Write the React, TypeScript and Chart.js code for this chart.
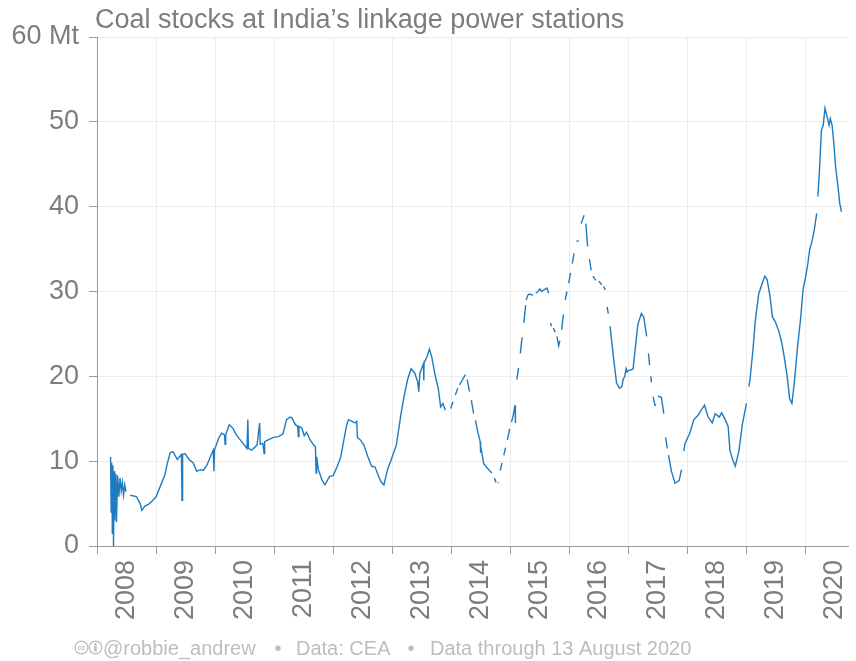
import { useEffect, useRef } from 'react';
import { Chart, registerables } from 'chart.js';

Chart.register(...registerables);

const TITLE = 'Coal stocks at India\u2019s linkage power stations';
const FOOTER_HANDLE = '@robbie_andrew';
const FOOTER_SOURCE = 'Data: CEA';
const FOOTER_DATE = 'Data through 13 August 2020';
const UNIT = 'Mt';

const YEARS = [2008, 2009, 2010, 2011, 2012, 2013, 2014, 2015, 2016, 2017, 2018, 2019, 2020];
const Y_TICKS = [0, 10, 20, 30, 40, 50, 60];

// [decimal year, stock in Mt] ; null = missing report
type Pt = [number, number | null];

const S2008: Pt[] = [
  [2008.23, 10.5], [2008.24, 4.0], [2008.25, 9.8], [2008.26, 1.5], [2008.27, 9.5], [2008.28, 0.0],
  [2008.29, 8.8], [2008.30, 3.0], [2008.32, 8.5], [2008.33, 2.8], [2008.35, 8.3], [2008.37, 5.8],
  [2008.39, 8.0], [2008.41, 6.5], [2008.43, 7.5], [2008.45, 6.0], [2008.47, 7.2], [2008.49, 6.4],
  [2008.52, null], [2008.56, 6.0], [2008.62, 5.9], [2008.67, 5.8], [2008.73, 5.0], [2008.76, 4.2],
  [2008.81, 4.7], [2008.87, 4.9], [2008.92, 5.2],
];
const S2009: Pt[] = [
  [2009.00, 5.8], [2009.07, 7.0], [2009.15, 8.4], [2009.19, 9.7], [2009.24, 11.0], [2009.29, 11.1],
  [2009.36, 10.2], [2009.43, 10.8], [2009.44, 5.4], [2009.45, 10.8], [2009.49, 10.9], [2009.56, 10.2],
  [2009.63, 9.8], [2009.69, 8.8], [2009.75, 9.0], [2009.80, 8.9], [2009.86, 9.5], [2009.93, 10.7],
  [2009.97, 11.3], [2009.98, 8.8], [2009.99, 11.3],
];
const S2010: Pt[] = [
  [2010.06, 12.7], [2010.11, 13.3], [2010.16, 13.1], [2010.17, 12.0], [2010.18, 13.1], [2010.24, 14.3],
  [2010.30, 13.9], [2010.36, 13.1], [2010.45, 12.3], [2010.54, 11.5], [2010.555, 14.9], [2010.565, 11.5],
  [2010.62, 11.3], [2010.71, 11.9], [2010.755, 14.5], [2010.765, 12.0], [2010.81, 12.1], [2010.83, 10.9],
  [2010.84, 12.3], [2010.90, 12.5], [2010.99, 12.8],
];
const S2011: Pt[] = [
  [2011.07, 12.9], [2011.15, 13.2], [2011.21, 14.9], [2011.27, 15.2], [2011.30, 15.1], [2011.36, 14.3],
  [2011.40, 14.1], [2011.41, 12.9], [2011.42, 14.1], [2011.47, 13.9], [2011.51, 13.0], [2011.55, 13.4],
  [2011.61, 12.5], [2011.67, 11.9], [2011.70, 11.7], [2011.71, 8.6], [2011.72, 10.5], [2011.75, 9.0],
  [2011.81, 7.8], [2011.86, 7.2], [2011.94, 8.2],
];
const S2012: Pt[] = [
  [2012.00, 8.3], [2012.07, 9.4], [2012.13, 10.5], [2012.17, 12.1], [2012.23, 14.3], [2012.26, 14.9],
  [2012.32, 14.7], [2012.37, 14.5], [2012.40, 14.7], [2012.41, 12.8], [2012.46, 12.5], [2012.52, 11.9],
  [2012.59, 10.5], [2012.65, 9.4], [2012.71, 9.3], [2012.77, 8.2], [2012.81, 7.6], [2012.86, 7.2],
  [2012.92, 9.0], [2012.98, 10.1],
];
const S2013: Pt[] = [
  [2013.07, 11.9], [2013.15, 15.6], [2013.20, 17.6], [2013.26, 19.6], [2013.32, 20.9], [2013.38, 20.4],
  [2013.43, 19.4], [2013.45, 18.2], [2013.47, 20.4], [2013.53, 21.5], [2013.535, 19.5], [2013.54, 21.6],
  [2013.59, 22.3], [2013.63, 23.2], [2013.67, 22.3], [2013.73, 20.0], [2013.78, 18.6], [2013.82, 16.4],
  [2013.86, 16.8], [2013.90, 16.0], [2013.94, null], [2013.99, 16.2],
];
const S2014: Pt[] = [
  [2014.03, 17.0], [2014.05, null], [2014.07, 17.8], [2014.11, 18.6], [2014.125, null], [2014.14, 19.0],
  [2014.19, 19.6], [2014.24, 20.2], [2014.255, null], [2014.27, 19.6], [2014.31, 18.2], [2014.325, null],
  [2014.34, 17.2], [2014.38, 15.6], [2014.395, null], [2014.41, 14.8], [2014.45, 13.4], [2014.47, 12.9],
  [2014.49, 12.3], [2014.495, 11.0], [2014.50, 11.8], [2014.55, 9.7], [2014.61, 9.2], [2014.66, 8.8],
  [2014.69, 8.6], [2014.71, null], [2014.73, 8.0], [2014.76, 7.5], [2014.775, null], [2014.79, 7.4],
  [2014.80, 7.5], [2014.815, null], [2014.83, 8.9], [2014.86, 9.8], [2014.875, null], [2014.89, 10.7],
  [2014.92, 11.6], [2014.935, null], [2014.95, 12.5], [2014.99, 13.8],
];
const S2015: Pt[] = [
  [2015.005, null], [2015.02, 14.6], [2015.05, 15.4], [2015.08, 16.6], [2015.085, 14.5], [2015.09, 16.6],
  [2015.10, null], [2015.11, 19.6], [2015.14, 21.0], [2015.155, null], [2015.17, 22.7], [2015.20, 24.6],
  [2015.215, null], [2015.23, 26.3], [2015.26, 28.4], [2015.265, null], [2015.27, 29.0], [2015.30, 29.6],
  [2015.33, 29.7], [2015.36, 29.6], [2015.39, 29.6], [2015.41, null], [2015.43, 29.8], [2015.47, 30.0],
  [2015.50, 30.3], [2015.53, 30.0], [2015.57, 30.2], [2015.62, 30.4], [2015.65, 29.8], [2015.665, null],
  [2015.68, 26.3], [2015.70, 25.9], [2015.715, null], [2015.73, 25.7], [2015.76, 25.2], [2015.775, null],
  [2015.79, 24.7], [2015.82, 23.6], [2015.84, 24.2], [2015.855, null], [2015.87, 25.5], [2015.90, 27.3],
  [2015.915, null], [2015.93, 29.0], [2015.96, 30.0], [2015.975, null], [2015.99, 31.0],
];
const S2016: Pt[] = [
  [2016.02, 32.2], [2016.035, null], [2016.05, 33.3], [2016.08, 34.5], [2016.10, null], [2016.12, 35.9],
  [2016.16, 36.0], [2016.18, null], [2016.20, 38.0], [2016.25, 39.0], [2016.265, null], [2016.28, 38.0],
  [2016.31, 35.3], [2016.325, null], [2016.34, 33.8], [2016.37, 32.5], [2016.385, null], [2016.40, 31.8],
  [2016.42, 31.6], [2016.45, 31.3], [2016.47, null], [2016.50, 31.2], [2016.55, 30.8], [2016.565, null],
  [2016.58, 30.6], [2016.61, 30.2], [2016.625, null], [2016.64, 28.2], [2016.66, 27.4], [2016.675, null],
  [2016.69, 25.9], [2016.74, 22.7], [2016.80, 19.2], [2016.85, 18.6], [2016.89, 18.8], [2016.91, 19.6],
  [2016.94, 20.0], [2016.96, 20.9], [2016.98, 20.5],
];
const S2017: Pt[] = [
  [2017.00, 20.7], [2017.03, 20.7], [2017.08, 20.9], [2017.12, 23.5], [2017.16, 26.1], [2017.22, 27.4],
  [2017.26, 27.0], [2017.31, 24.7], [2017.325, null], [2017.34, 22.7], [2017.36, 21.3], [2017.37, null],
  [2017.38, 20.0], [2017.39, 19.3], [2017.40, null], [2017.42, 17.6], [2017.45, 16.6], [2017.47, 16.6],
  [2017.485, null], [2017.50, 17.7], [2017.56, 17.5], [2017.60, 15.6], [2017.615, null], [2017.63, 12.8],
  [2017.66, 11.5], [2017.67, null], [2017.68, 10.7], [2017.73, 8.8], [2017.79, 7.4], [2017.86, 7.7],
  [2017.90, 9.0], [2017.92, null], [2017.94, 11.2], [2017.96, 12.1],
];
const S2018: Pt[] = [
  [2018.04, 13.3], [2018.11, 14.9], [2018.18, 15.4], [2018.25, 16.2], [2018.29, 16.6], [2018.35, 15.2],
  [2018.42, 14.5], [2018.47, 15.6], [2018.54, 15.2], [2018.58, 15.7], [2018.64, 14.9], [2018.69, 14.1],
  [2018.72, 11.3], [2018.76, 10.3], [2018.81, 9.4], [2018.87, 11.1], [2018.93, 14.3],
];
const S2019: Pt[] = [
  [2019.00, 16.8], [2019.02, null], [2019.04, 18.8], [2019.06, 19.6], [2019.11, 23.1], [2019.15, 26.6],
  [2019.21, 29.8], [2019.27, 31.0], [2019.31, 31.8], [2019.35, 31.4], [2019.40, 29.4], [2019.44, 27.0],
  [2019.49, 26.4], [2019.55, 25.3], [2019.60, 23.9], [2019.64, 22.3], [2019.69, 20.0], [2019.73, 17.4],
  [2019.77, 16.8], [2019.81, 19.2], [2019.86, 23.1], [2019.92, 27.0], [2019.96, 30.3],
];
const S2020: Pt[] = [
  [2020.00, 31.6], [2020.04, 33.3], [2020.07, 34.9], [2020.11, 35.9], [2020.15, 37.3], [2020.19, 39.2],
  [2020.20, null], [2020.21, 41.2], [2020.24, 44.7], [2020.27, 49.0], [2020.30, 49.6], [2020.33, 51.6],
  [2020.36, 50.8], [2020.40, 49.6], [2020.42, 50.4], [2020.45, 49.6], [2020.48, 47.5], [2020.51, 44.7],
  [2020.55, 42.4], [2020.58, 40.4], [2020.61, 39.4],
];

const SERIES: Pt[] = [
  ...S2008, ...S2009, ...S2010, ...S2011, ...S2012, ...S2013, ...S2014,
  ...S2015, ...S2016, ...S2017, ...S2018, ...S2019, ...S2020,
];

const FONT = '"Liberation Sans", Arial, Helvetica, sans-serif';
const TEXT_GREY = '#7d7d7d';
const FOOT_GREY = '#bdbdbd';
const GRID = '#ececec';
const AXIS = '#9a9a9a';
const LINE = '#1f7bbf';

const textPlugin = {
  id: 'titleFooter',
  afterDraw(chart: any) {
    const ctx = chart.ctx as CanvasRenderingContext2D;
    ctx.save();
    ctx.textAlign = 'left';
    ctx.textBaseline = 'alphabetic';
    ctx.fillStyle = TEXT_GREY;
    ctx.font = `27px ${FONT}`;
    ctx.fillText(TITLE, 95, 28);

    // footer
    const cy = 647.5;
    ctx.strokeStyle = FOOT_GREY;
    ctx.fillStyle = FOOT_GREY;
    ctx.lineWidth = 1.2;
    ctx.beginPath();
    ctx.arc(81.5, cy, 6.3, 0, Math.PI * 2);
    ctx.stroke();
    ctx.font = `bold 7px ${FONT}`;
    ctx.textAlign = 'center';
    ctx.textBaseline = 'middle';
    ctx.fillText('cc', 81.5, cy + 0.5);
    ctx.beginPath();
    ctx.arc(95.5, cy, 6.3, 0, Math.PI * 2);
    ctx.stroke();
    ctx.beginPath();
    ctx.arc(95.5, cy - 3.2, 1.2, 0, Math.PI * 2);
    ctx.fill();
    ctx.fillRect(94.2, cy - 1.5, 2.6, 5.5);

    ctx.textAlign = 'left';
    ctx.textBaseline = 'alphabetic';
    ctx.font = `20px ${FONT}`;
    ctx.fillText(FOOTER_HANDLE, 103, 655);
    ctx.textAlign = 'center';
    ctx.fillText('\u2022', 278, 655);
    ctx.textAlign = 'left';
    ctx.fillText(FOOTER_SOURCE, 296, 655);
    ctx.textAlign = 'center';
    ctx.fillText('\u2022', 411, 655);
    ctx.textAlign = 'left';
    ctx.fillText(FOOTER_DATE, 430, 655);
    ctx.restore();
  },
};

export default function App() {
  const ref = useRef<HTMLCanvasElement | null>(null);

  useEffect(() => {
    if (!ref.current) return;
    const data = SERIES.map(([x, y]) => ({ x, y }));
    const chart = new Chart(ref.current, {
      type: 'line',
      data: {
        datasets: [
          {
            data: data as any,
            borderColor: LINE,
            borderWidth: 1.4,
            pointRadius: 0,
            tension: 0,
            spanGaps: false,
            fill: false,
          },
        ],
      },
      options: {
        responsive: false,
        animation: false,
        layout: { padding: { top: 37, right: 8, left: 0, bottom: 0 } },
        plugins: {
          legend: { display: false },
          tooltip: { enabled: false },
          title: { display: false },
        },
        scales: {
          x: {
            type: 'linear',
            min: YEARS[0],
            max: 2020.72,
            afterBuildTicks: (scale: any) => {
              const ticks: any[] = [];
              YEARS.forEach((y) => {
                ticks.push({ value: y });
                ticks.push({ value: y + 0.5 });
              });
              scale.ticks = ticks.filter((t) => t.value <= 2020.72);
            },
            afterFit: (scale: any) => {
              scale.height = 115;
              scale.paddingLeft = 0;
              scale.paddingRight = 0;
            },
            grid: {
              color: (c: any) => (c.tick && Number.isInteger(c.tick.value) ? GRID : 'rgba(0,0,0,0)'),
              tickColor: (c: any) => (c.tick && Number.isInteger(c.tick.value) ? AXIS : 'rgba(0,0,0,0)'),
              tickLength: 8,
              lineWidth: 1,
            },
            border: { color: AXIS, width: 1 },
            ticks: {
              autoSkip: false,
              minRotation: 90,
              maxRotation: 90,
              padding: 6,
              color: TEXT_GREY,
              font: { family: FONT, size: 27 },
              callback: (v: any) => (Number.isInteger(v) ? '' : String(Math.floor(Number(v)))),
            },
          },
          y: {
            type: 'linear',
            min: 0,
            max: 60,
            afterBuildTicks: (scale: any) => {
              scale.ticks = Y_TICKS.map((v) => ({ value: v }));
            },
            afterFit: (scale: any) => {
              scale.width = 97;
              scale.paddingTop = 0;
              scale.paddingBottom = 0;
            },
            grid: { color: GRID, tickColor: AXIS, tickLength: 8, lineWidth: 1 },
            border: { color: AXIS, width: 1 },
            ticks: {
              padding: 10,
              color: TEXT_GREY,
              font: { family: FONT, size: 27 },
              callback: (v: any) => (Number(v) === 60 ? `60 ${UNIT}` : String(v)),
            },
          },
        },
      },
      plugins: [textPlugin],
    });
    return () => chart.destroy();
  }, []);

  return (
    <div style={{ position: 'fixed', left: 0, top: 0, width: 856, height: 661, background: '#fff' }}>
      <canvas ref={ref} width={856} height={661} style={{ display: 'block' }} />
    </div>
  );
}
